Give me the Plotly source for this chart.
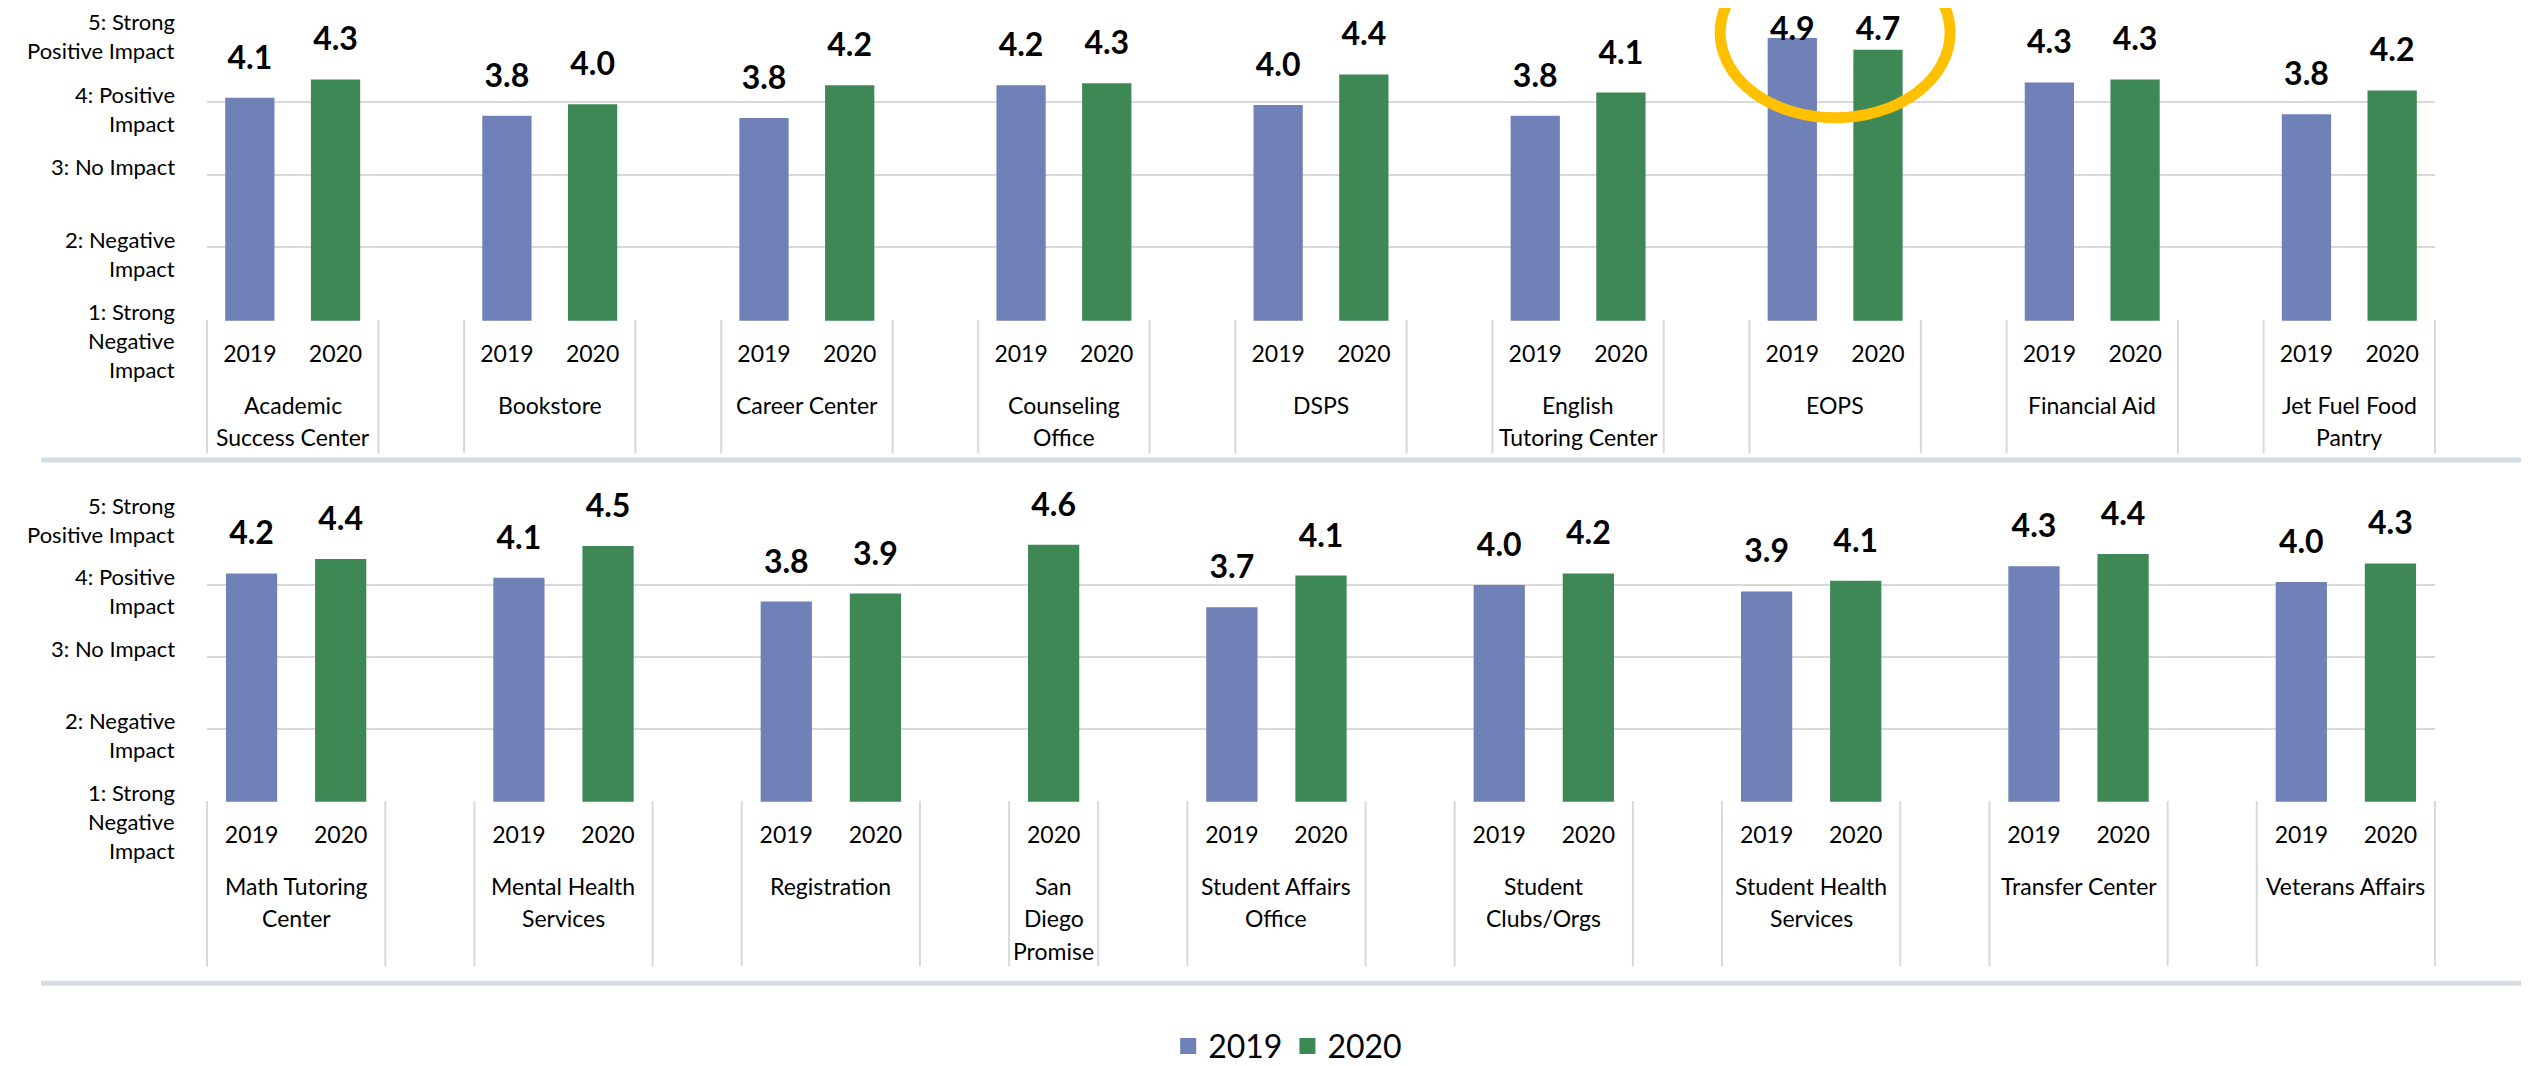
import plotly.graph_objects as go

# colores
color_2019 = "#7081B8"
color_2020 = "#3E8855"
color_grid = "#D9D9D9"
color_sep = "#D6DCE5"
color_circulo = "#FFC000"

W, H = 2529, 1066

# Datos: servicios de la fila superior
top_services = ["Academic<br>Success Center", "Bookstore", "Career Center", "Counseling<br>Office", "DSPS",
                "English<br>Tutoring Center", "EOPS", "Financial Aid", "Jet Fuel Food<br>Pantry"]
top_2019 = [4.06, 3.81, 3.78, 4.23, 3.96, 3.81, 4.88, 4.27, 3.83]
top_2020 = [4.31, 3.97, 4.23, 4.26, 4.38, 4.13, 4.72, 4.31, 4.16]

# Datos: servicios de la fila inferior (San Diego Promise sin dato 2019)
bottom_services = ["Math Tutoring<br>Center", "Mental Health<br>Services", "Registration", "San<br>Diego<br>Promise",
                   "Student Affairs<br>Office", "Student<br>Clubs/Orgs", "Student Health<br>Services",
                   "Transfer Center", "Veterans Affairs"]
bottom_2019 = [4.16, 4.10, 3.77, None, 3.69, 4.00, 3.91, 4.26, 4.04]
bottom_2020 = [4.36, 4.54, 3.88, 4.56, 4.13, 4.16, 4.06, 4.43, 4.30]

years = ["2019", "2020"]
impact_values = [5, 4, 3, 2, 1]
impact_labels = ["5: Strong<br>Positive Impact", "4: Positive<br>Impact", "3: No Impact",
                 "2: Negative<br>Impact", "1: Strong<br>Negative<br>Impact"]


# pixel -> coordenadas "paper"
def py(px):
    return 1 - px / H


def pxx(px):
    return px / W


X_LEFT, X_RIGHT = 199, 2427
PAD = 0.01

paneles = [
    dict(servicios=top_services, v19=top_2019, v20=top_2020,
         base=316.7, tope=21.7, caja=452, sep=459, cap=4.45),
    dict(servicios=bottom_services, v19=bottom_2019, v20=bottom_2020,
         base=805, tope=512.7, caja=973, sep=990, cap=None),
]

fig = go.Figure()
shapes = []
annotations = []
layout_axes = {}

for k, p in enumerate(paneles):
    xa = "x" if k == 0 else "x2"
    ya = "y" if k == 0 else "y2"

    # posiciones de cada barra: 2019, 2020 y un espacio vacio entre servicios
    pos = 0
    x19, y19, x20, y20, centros, bordes = [], [], [], [], [], []
    for a, b in zip(p["v19"], p["v20"]):
        inicio = pos
        if a is not None:
            x19.append(pos)
            y19.append(a)
            pos += 1
        if b is not None:
            x20.append(pos)
            y20.append(b)
            pos += 1
        centros.append((inicio + pos - 1) / 2)
        bordes += [inicio - 0.5, pos - 0.5]
        pos += 1
    n = pos - 1

    fig.add_trace(go.Bar(x=x19, y=y19, width=0.575, marker_color=color_2019, marker_line_width=0,
                         xaxis=xa, yaxis=ya, showlegend=False, hoverinfo="skip"))
    fig.add_trace(go.Bar(x=x20, y=y20, width=0.575, marker_color=color_2020, marker_line_width=0,
                         xaxis=xa, yaxis=ya, showlegend=False, hoverinfo="skip"))

    # etiquetas de valor
    vals = y19 + y20
    cap = p["cap"] if p["cap"] is not None else 99
    fig.add_trace(go.Scatter(
        x=x19 + x20, y=[min(v, cap) for v in vals],
        text=[f"{v:.1f}" for v in vals],
        mode="markers+text", textposition="top center",
        marker=dict(size=32, opacity=0),
        textfont=dict(size=32, color="black", family="Lato", weight="bold"),
        cliponaxis=False, xaxis=xa, yaxis=ya, showlegend=False, hoverinfo="skip"))

    unidad = (p["base"] - p["tope"]) / 4
    d0, d1 = pxx(X_LEFT), pxx(X_RIGHT)
    layout_axes["xaxis" if k == 0 else "xaxis2"] = dict(
        domain=[d0, d1], range=[-0.5, n - 0.5], anchor=ya,
        tickvals=x19 + x20, ticktext=[years[0]] * len(x19) + [years[1]] * len(x20),
        tickfont=dict(size=23, color="black"), ticks="", ticklabelstandoff=17,
        showgrid=False, zeroline=False, showline=False)
    layout_axes["yaxis" if k == 0 else "yaxis2"] = dict(
        domain=[py(p["base"] + PAD * unidad), py(p["tope"] - PAD * unidad)],
        range=[1 - PAD, 5 + PAD], anchor=xa, tickvals=impact_values, showticklabels=False,
        showgrid=True, gridcolor=color_grid, gridwidth=2, zeroline=False, showline=False)

    # lineas de las cajas de categoria
    for b in sorted(set(bordes)):
        xb = d0 + (b + 0.5) / n * (d1 - d0)
        shapes.append(dict(type="line", xref="paper", yref="paper", x0=xb, x1=xb,
                           y0=py(p["base"]), y1=py(p["caja"]), line=dict(color=color_grid, width=2)))

    # nombres de servicio, una anotacion por linea
    for c, nombre in zip(centros, p["servicios"]):
        for j, linea in enumerate(nombre.split("<br>")):
            annotations.append(dict(x=c, xref=xa, y=py(p["base"] + 86 + 33 * j), yref="paper",
                                    text=linea, showarrow=False, xanchor="center", yanchor="middle",
                                    font=dict(size=23, color="black")))

    # etiquetas del eje y
    for v, lab in zip(impact_values, impact_labels):
        for j, linea in enumerate(lab.split("<br>")):
            annotations.append(dict(x=pxx(169), xref="paper", y=v, yref=ya, text=linea, showarrow=False,
                                    xanchor="right", yanchor="middle", yshift=8 - 29 * j,
                                    font=dict(size=22, color="black")))

    # separador horizontal
    shapes.append(dict(type="line", xref="paper", yref="paper", x0=pxx(33), x1=pxx(2517),
                       y0=py(p["sep"]), y1=py(p["sep"]), line=dict(color=color_sep, width=5)))

    # circulo destacando EOPS
    if k == 0:
        c = centros[top_services.index("EOPS")]
        shapes.append(dict(type="circle", xref="x", yref="paper", x0=c - 1.342, x1=c + 1.342,
                           y0=py(111.5), y1=py(-61.5), line=dict(color=color_circulo, width=11),
                           layer="above"))

# entradas de la leyenda
fig.add_trace(go.Scatter(x=[None], y=[None], mode="markers", name="2019",
                         marker=dict(symbol="square", size=16, color=color_2019)))
fig.add_trace(go.Scatter(x=[None], y=[None], mode="markers", name="2020",
                         marker=dict(symbol="square", size=16, color=color_2020)))

fig.update_layout(
    width=W, height=H,
    margin=dict(l=0, r=0, t=0, b=0),
    paper_bgcolor="white", plot_bgcolor="white",
    font=dict(family="Lato, 'Open Sans', sans-serif", color="black"),
    barmode="overlay",
    shapes=shapes, annotations=annotations,
    legend=dict(orientation="h", x=0.506, xanchor="center", y=py(1054), yanchor="middle",
                font=dict(size=32, color="black"), bgcolor="rgba(0,0,0,0)"),
    **layout_axes,
)

fig.write_html("out.html")
